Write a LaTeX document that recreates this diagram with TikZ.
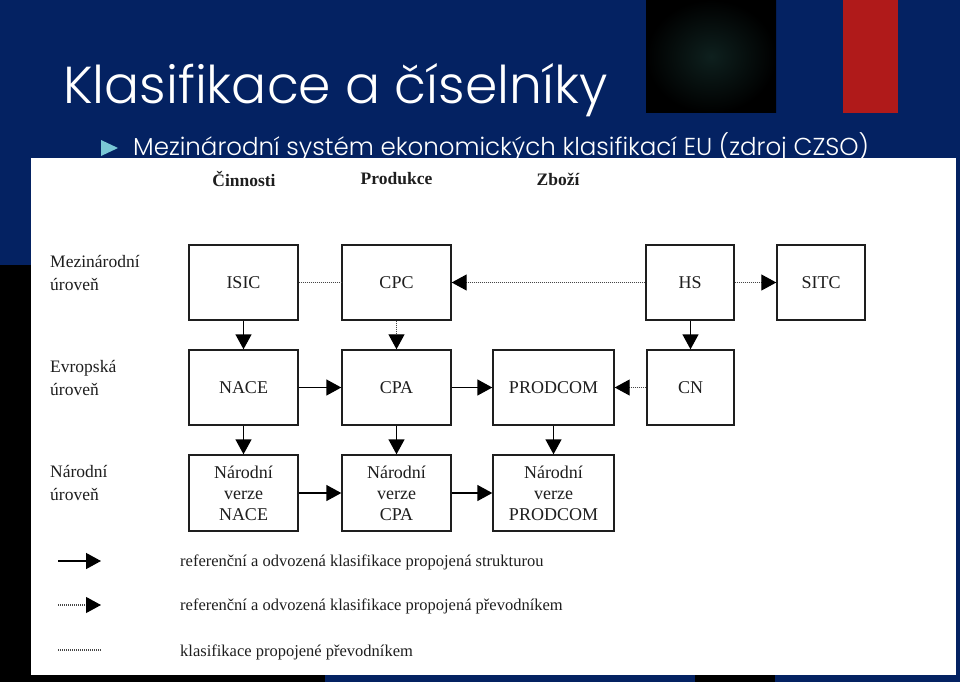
\documentclass[tikz,border=0pt]{standalone}
\usepackage{fontspec}
\setmainfont{Liberation Serif}
\newfontfamily\titlefont{Poppins Light}
\usetikzlibrary{arrows.meta}
\definecolor{bgblue}{RGB}{4,34,98}
\definecolor{redbar}{RGB}{176,26,26}
\definecolor{bulletc}{RGB}{122,200,214}
\definecolor{inkc}{RGB}{30,30,30}
\definecolor{dotc}{RGB}{70,70,70}
\tikzset{
  box/.style={draw=inkc, line width=1.4pt, inner sep=0pt, align=center, text=inkc,
    font=\fontsize{18}{21}\selectfont},
  hdr/.style={font=\fontsize{17.5}{21}\selectfont\bfseries, text=inkc, inner sep=0pt},
  lvl/.style={font=\fontsize{17.5}{22.5}\selectfont, text=inkc, align=left, inner sep=0pt, anchor=west},
  legtext/.style={font=\fontsize{16.5}{20}\selectfont, text=inkc, inner sep=0pt, anchor=west},
  solidarrow/.style={draw=black, line width=1.4pt, -{Triangle[length=15pt,width=16pt]}},
  dotline/.style={draw=dotc, line width=1.1pt, dash pattern=on 1pt off 1pt},
  dotarrow/.style={dotline, -{Triangle[length=15pt,width=16pt,color=black,fill=black]}},
}
\begin{document}
\begin{tikzpicture}[x=1pt,y=-1pt]
\useasboundingbox (0,0) rectangle (960,682);
% background
\fill[bgblue] (0,0) rectangle (960,682);
\fill[black] (0,265) rectangle (325,682);
\fill[black] (695,600) rectangle (775,682);
\shade[inner color={rgb,255:red,14;green,32;blue,30}, outer color=black] (646,0) rectangle (776,113);
\fill[redbar] (843,0) rectangle (898,113);
% title
\node[anchor=base west, inner sep=0pt, text=white, font=\titlefont\fontsize{52}{56}\selectfont] (title) at (63,103) {Klasifikace a číselníky};
\fill[bulletc] (101,140) -- (118,148) -- (101,156) -- cycle;
\node[anchor=base west, inner sep=0pt, text=white, font=\titlefont\fontsize{24.5}{28}\selectfont] (sub) at (133,155) {Mezinárodní systém ekonomických klasifikací EU (zdroj CZSO)};
% white panel
\fill[white] (31,158) rectangle (956,675);
% headers
\node[hdr] (h1) at (244,179) {Činnosti};
\node[hdr] (h2) at (396.5,179) {Produkce};
\node[hdr] (h3) at (558,179) {Zboží};
% level labels
\node[lvl] (l1) at (50,273) {Mezinárodní\\úroveň};
\node[lvl] (l2) at (50,378) {Evropská\\úroveň};
\node[lvl] (l3) at (50,483) {Národní\\úroveň};
% boxes row 1
\node[box, minimum width=109pt, minimum height=75pt] (isic) at (243.5,282.5) {ISIC};
\node[box, minimum width=109pt, minimum height=75pt] (cpc) at (396.5,282.5) {CPC};
\node[box, minimum width=88pt, minimum height=75pt] (hs) at (690,282.5) {HS};
\node[box, minimum width=88pt, minimum height=75pt] (sitc) at (821,282.5) {SITC};
% row 2
\node[box, minimum width=109pt, minimum height=75pt] (nace) at (243.5,387.5) {NACE};
\node[box, minimum width=109pt, minimum height=75pt] (cpa) at (396.5,387.5) {CPA};
\node[box, minimum width=121pt, minimum height=75pt] (prodcom) at (553.5,387.5) {PRODCOM};
\node[box, minimum width=87pt, minimum height=75pt] (cn) at (690.5,387.5) {CN};
% row 3
\node[box, minimum width=109pt, minimum height=76pt] (nnace) at (243.5,493) {Národní\\verze\\NACE};
\node[box, minimum width=109pt, minimum height=76pt] (ncpa) at (396.5,493) {Národní\\verze\\CPA};
\node[box, minimum width=121pt, minimum height=76pt] (nprodcom) at (553.5,493) {Národní\\verze\\PRODCOM};
% connectors
\draw[dotline] (isic) -- (cpc);
\draw[dotarrow] (hs) -- (cpc);
\draw[dotarrow] (hs) -- (sitc);
\draw[solidarrow] (isic) -- (nace);
\draw[dotarrow] (cpc) -- (cpa);
\draw[solidarrow] (hs.south -| cn) -- (cn);
\draw[solidarrow] (nace) -- (cpa);
\draw[solidarrow] (cpa) -- (prodcom);
\draw[dotarrow] (cn) -- (prodcom);
\draw[solidarrow] (nace) -- (nnace);
\draw[solidarrow] (cpa) -- (ncpa);
\draw[solidarrow] (prodcom) -- (nprodcom);
\draw[solidarrow] (nnace) -- (ncpa);
\draw[solidarrow] (ncpa) -- (nprodcom);
% legend
\coordinate (a1) at (58,561); \coordinate (b1) at (101,561);
\coordinate (a2) at (58,605); \coordinate (b2) at (101,605);
\coordinate (a3) at (58,650); \coordinate (b3) at (101,650);
\draw[solidarrow] (a1) -- (b1);
\draw[dotarrow] (a2) -- (b2);
\draw[dotline] (a3) -- (b3);
\node[legtext] (t1) at (180,562) {referenční a odvozená klasifikace propojená strukturou};
\node[legtext] (t2) at (180,606) {referenční a odvozená klasifikace propojená převodníkem};
\node[legtext] (t3) at (180,652) {klasifikace propojené převodníkem};
\end{tikzpicture}
\end{document}
